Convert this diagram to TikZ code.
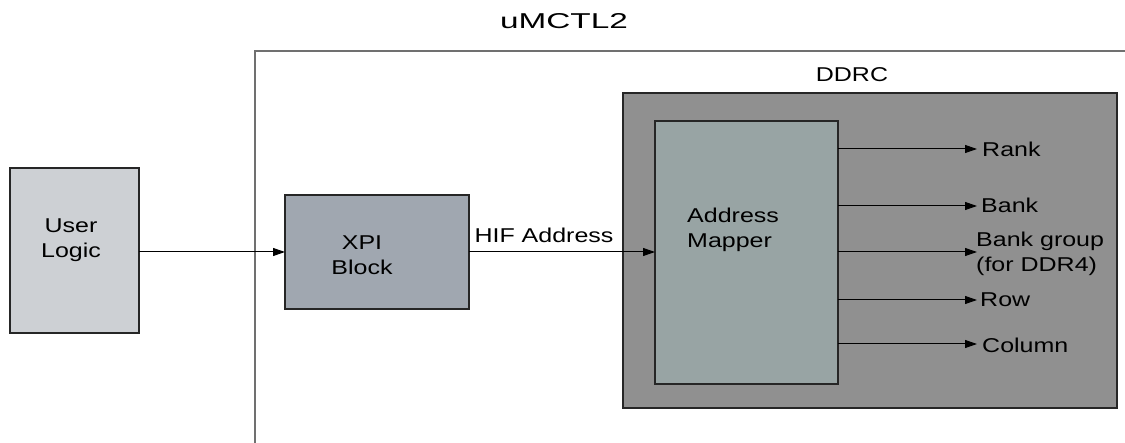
\documentclass[tikz,border=0pt]{standalone}
\usepackage{fontspec}
\setmainfont[FakeStretch=1.25]{Liberation Sans}
\newfontfamily\titlefont[FakeStretch=1.55]{Liberation Sans}
\usetikzlibrary{arrows.meta}
\definecolor{userfill}{HTML}{CDD0D4}
\definecolor{xpifill}{HTML}{A0A7B0}
\definecolor{ddrcfill}{HTML}{909090}
\definecolor{mapfill}{HTML}{98A4A4}
\definecolor{outline}{HTML}{707070}
\begin{document}
\begin{tikzpicture}[x=1pt,y=-1pt,
  box/.style={draw=black!85,line width=1.2pt,inner sep=0pt,outer sep=0pt},
  txt/.style={font=\fontsize{20}{25}\selectfont,align=center,inner sep=0pt},
  arr/.style={line width=1pt,-{Triangle[length=12pt,width=8pt]}},
  lbl/.style={font=\fontsize{20}{25}\selectfont,anchor=west,inner sep=0pt,align=left}]
\useasboundingbox (0,0) rectangle (1125,443);
% outer uMCTL2
\draw[outline,line width=1.3pt] (255,443) -- (255,51) -- (1125,51);
\node[inner sep=0pt,anchor=base,font=\titlefont\fontsize{21.5}{25}\selectfont] (title) at (564,29) {uMCTL2};
% User logic
\draw[box,fill=userfill] (10,168) rectangle (139,333);
\coordinate (uR) at (139,252);
\node[txt,anchor=base] (user) at (71,258) {User\\Logic};
% XPI
\draw[box,fill=xpifill] (285,195) rectangle (469,309);
\coordinate (xL) at (285,252);
\coordinate (xR) at (469,252);
\node[txt,anchor=base] (xpi) at (362,275) {XPI\\Block};
% DDRC
\draw[box,fill=ddrcfill] (623,93) rectangle (1117,408);
\node[inner sep=0pt,anchor=base,font=\fontsize{20}{25}\selectfont] (ddrc) at (852,82) {DDRC};
% Address mapper
\draw[box,fill=mapfill] (655,121) rectangle (838,384);
\coordinate (mL) at (655,252);
\node[txt,align=left,anchor=base west] (mapper) at (687,248) {Address\\Mapper};
% connectors
\draw[arr] (uR) -- (xL);
\draw[arr] (xR) -- (mL);
\node[lbl,anchor=base] (hif) at (544,243) {HIF Address};
% outputs
\foreach \y/\n in {149/o1,206/o2,252/o3,300/o4,344/o5}{
  \coordinate (s\n) at (838,\y);
  \coordinate (e\n) at (977,\y);
  \draw[arr] (s\n) -- (e\n);
}
\node[lbl,anchor=base west] (rank) at (982,157) {Rank};
\node[lbl,anchor=base west] (bank) at (981,213) {Bank};
\node[lbl,anchor=base west] (bg) at (976,272) {Bank group\\(for DDR4)};
\node[lbl,anchor=base west] (row) at (980,307) {Row};
\node[lbl,anchor=base west] (col) at (982,353) {Column};
\end{tikzpicture}
\end{document}
